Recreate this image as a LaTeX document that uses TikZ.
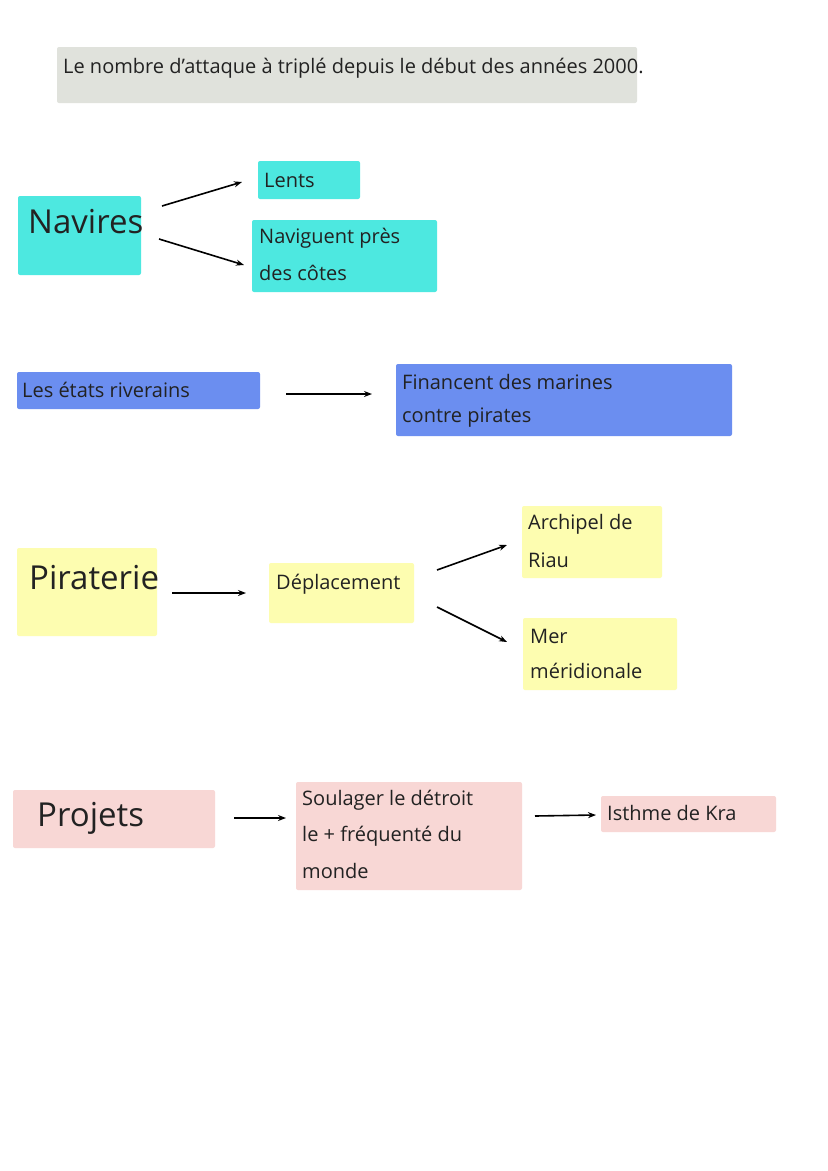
\documentclass[tikz,border=0pt]{standalone}
\usepackage{fontspec}
\setmainfont{Open Sans}
\usetikzlibrary{arrows.meta}
\definecolor{cgray}{HTML}{E0E2DC}
\definecolor{ccyan}{HTML}{4DE8E0}
\definecolor{cblue}{HTML}{6B8EF0}
\definecolor{cyel}{HTML}{FDFDB0}
\definecolor{cpink}{HTML}{F8D7D5}
\definecolor{ctext}{HTML}{222222}
\tikzset{
 box/.style={anchor=north west,inner sep=0pt,outer sep=0pt,rounded corners=2pt},
 txt/.style={anchor=west,inner sep=0pt,text=ctext,font=\fontsize{20}{24}\selectfont},
 big/.style={anchor=west,inner sep=0pt,text=ctext,font=\fontsize{33}{38}\selectfont},
 arr/.style={-{Stealth[length=8pt,width=6pt]},line width=1.6pt,black}
}
\newcommand{\bx}[6]{\fill[#6,rounded corners=2pt] (#2,#3) rectangle (#4,#5) coordinate (#1);}
\begin{document}
\begin{tikzpicture}[x=1pt,y=-1pt]
\useasboundingbox[fill=white] (0,0) rectangle (828,1171);
\bx{bt}{57}{47}{637}{103}{cgray}
\node[txt] (t) at (63,68) {Le nombre d'attaque à triplé depuis le début des années 2000.};
\bx{b1}{18}{196}{141}{275}{ccyan}
\node[big] (nav) at (28,222) {Navires};
\bx{b2}{258}{161}{360}{199}{ccyan}
\node[txt] (lents) at (264,180) {Lents};
\bx{b3}{252}{220}{437}{292}{ccyan}
\node[txt] (nav1) at (259,238) {Naviguent près};
\node[txt] (nav2) at (259,273) {des côtes};
\coordinate (a1s) at (162,206); \coordinate (a1e) at (242,182);
\coordinate (a2s) at (159,239); \coordinate (a2e) at (244,265);
\draw[arr] (a1s) -- (a1e);
\draw[arr] (a2s) -- (a2e);
\bx{b4}{17}{372}{260}{409}{cblue}
\node[txt] (etat) at (22,390) {Les états riverains};
\bx{b5}{396}{364}{732}{436}{cblue}
\node[txt] (fin1) at (402,382) {Financent des marines};
\node[txt] (fin2) at (402,418) {contre pirates};
\coordinate (a3s) at (286,394); \coordinate (a3e) at (372,394);
\draw[arr] (a3s) -- (a3e);
\bx{b6}{17}{548}{157}{636}{cyel}
\node[big] (pir) at (29,578) {Piraterie};
\bx{b7}{269}{563}{414}{623}{cyel}
\node[txt] (dep) at (276,584) {Déplacement};
\bx{b8}{522}{506}{662}{578}{cyel}
\node[txt] (ar1) at (528,524) {Archipel de};
\node[txt] (ar2) at (528,560) {Riau};
\bx{b9}{523}{618}{677}{690}{cyel}
\node[txt] (mer1) at (530,636) {Mer};
\node[txt] (mer2) at (530,671) {méridionale};
\coordinate (a4s) at (172,593); \coordinate (a4e) at (246,593);
\coordinate (a5s) at (437,570); \coordinate (a5e) at (507,545);
\coordinate (a6s) at (437,607); \coordinate (a6e) at (507,642);
\draw[arr] (a4s) -- (a4e);
\draw[arr] (a5s) -- (a5e);
\draw[arr] (a6s) -- (a6e);
\bx{b10}{13}{790}{215}{848}{cpink}
\node[big] (proj) at (37,818) {Projets};
\bx{b11}{296}{782}{522}{890}{cpink}
\node[txt] (s1) at (302,800) {Soulager le détroit};
\node[txt] (s2) at (302,836) {le + fréquenté du};
\node[txt] (s3) at (302,871) {monde};
\bx{b12}{601}{796}{776}{832}{cpink}
\node[txt] (kra) at (607,813) {Isthme de Kra};
\coordinate (a7s) at (234,818); \coordinate (a7e) at (286,818);
\coordinate (a8s) at (535,816); \coordinate (a8e) at (596,815);
\draw[arr] (a7s) -- (a7e);
\draw[arr] (a8s) -- (a8e);
\end{tikzpicture}
\end{document}
